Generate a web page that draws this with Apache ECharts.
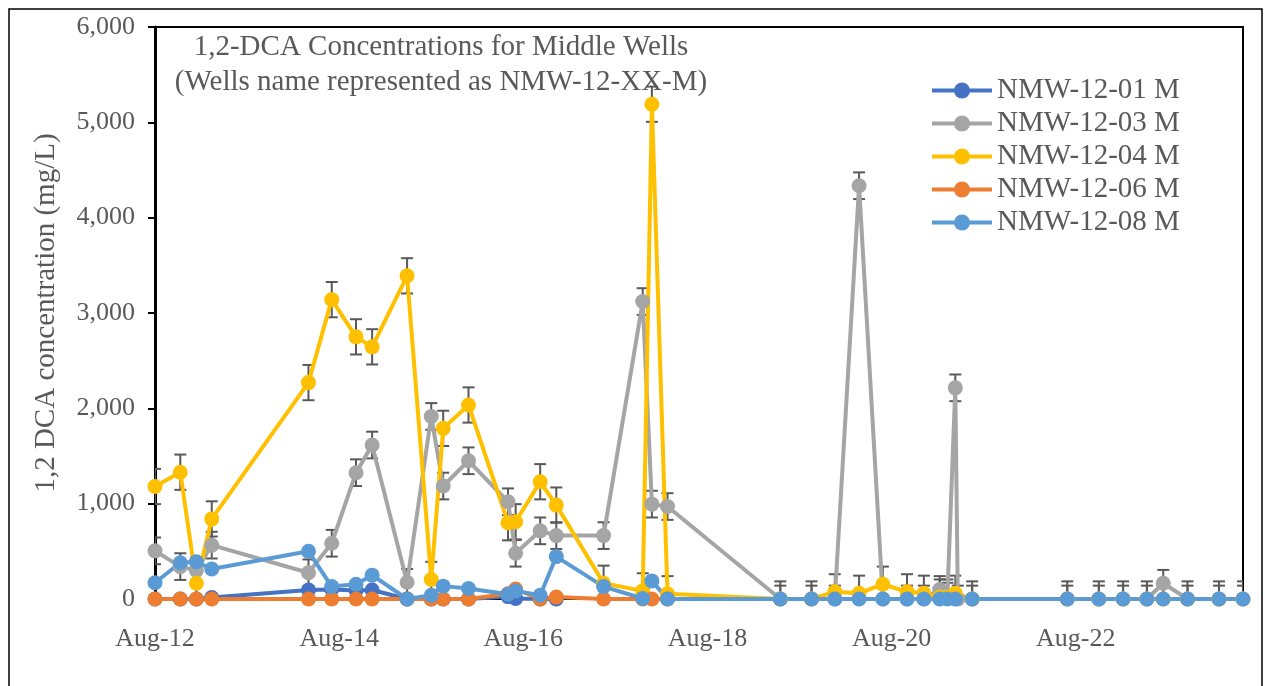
<!DOCTYPE html>
<html>
<head>
<meta charset="utf-8">
<script src="https://cdn.jsdelivr.net/npm/echarts@6/dist/echarts.min.js"></script>
<style>
  html, body { margin: 0; padding: 0; background: #fff; }
  #chart { width: 1265px; height: 686px; }
</style>
</head>
<body>
<div id="chart"></div>
<script>
// Sampling dates shared by all wells
const sampleDates = [
  '2012-08-01', '2012-11-10', '2013-01-13', '2013-03-13', '2014-04-01',
  '2014-07-02', '2014-10-07', '2014-12-10', '2015-04-27', '2015-08-01',
  '2015-09-18', '2015-12-27', '2016-06-01', '2016-07-01', '2016-10-07',
  '2016-12-10', '2017-06-15', '2017-11-18', '2017-12-24', '2018-02-25',
  '2019-05-16', '2019-09-18', '2019-12-19', '2020-03-24', '2020-06-27',
  '2020-10-01', '2020-12-07', '2021-02-09', '2021-03-09', '2021-04-10',
  '2021-04-20', '2021-06-16', '2022-06-28', '2022-11-01', '2023-02-06',
  '2023-05-09', '2023-07-13', '2023-10-18', '2024-02-21', '2024-05-25'
];

// 1,2-DCA concentrations (mg/L); null = not sampled
const nmw01 = [0, 0, 0, 15, 95, 100, 90, 95, 0, 0,
  0, 0, 25, 5, 0, 0, null, null, null, null,
  null, null, null, null, null, null, null, null, null, null,
  null, null, null, null, null, null, null, null, null, null];
const nmw03 = [505, 340, 300, 565, 275, 585, 1325, 1615, 175, 1915,
  1185, 1450, 1020, 480, 715, 665, 665, 3120, 995, 970,
  0, 0, 0, 4335, 0, 0, 0, 100, 30, 2215,
  0, 0, 0, 0, 0, 0, 165, 0, 0, 0];
const nmw04 = [1180, 1330, 165, 840, 2270, 3140, 2750, 2645, 3390, 205,
  1790, 2035, 800, 810, 1230, 985, 165, 85, 5190, 55,
  0, 0, 75, 60, 155, 75, 60, 20, 20, 60,
  null, 0, 0, 0, 0, 0, 0, 0, 0, 0];
const nmw06 = [0, 0, 0, 0, 0, 0, 0, 0, 0, 0,
  0, 0, 55, 105, 0, 20, 0, 0, 0, 0,
  null, null, null, null, null, null, null, null, null, null,
  null, null, null, null, null, null, null, null, null, null];
const nmw08 = [170, 380, 390, 315, 500, 130, 155, 250, 0, 40,
  135, 110, 50, 85, 40, 445, 130, 5, 190, 0,
  0, 0, 0, 0, 0, 0, 0, 0, 0, 0,
  null, 0, 0, 0, 0, 0, 0, 0, 0, 0];

// Standard error (mg/L) shown as error bars
const nmw03Error = 140;
const nmw04Error = 185;

const seriesNames = ['NMW-12-01 M', 'NMW-12-03 M', 'NMW-12-04 M', 'NMW-12-06 M', 'NMW-12-08 M'];
const seriesColors = ['#4472C4', '#A5A5A5', '#FFC000', '#ED7D31', '#5B9BD5'];
const xTickLabels = ['Aug-12', 'Aug-14', 'Aug-16', 'Aug-18', 'Aug-20', 'Aug-22', 'Aug-24'];
const yTicks = { min: 0, max: 6000, step: 1000 };

const SERIF = '"Liberation Serif", "Times New Roman", serif';
const TEXT = '#595959';

// Month offset from August 2012 (the axis origin)
function monthsFromStart(iso) {
  const [y, m, d] = iso.split('-').map(Number);
  return (y - 2012) * 12 + (m - 8) + (d - 1) / 30.44;
}
const xMonths = sampleDates.map(monthsFromStart);

function points(values) {
  const out = [];
  values.forEach((v, i) => { if (v !== null) out.push([xMonths[i], v]); });
  return out;
}

function lineSeries(idx, values) {
  return {
    name: seriesNames[idx],
    type: 'line',
    data: points(values),
    symbol: 'circle',
    symbolSize: 15,
    showAllSymbol: true,
    lineStyle: { color: seriesColors[idx], width: 4 },
    itemStyle: { color: seriesColors[idx] },
    emphasis: { disabled: true },
    animation: false
  };
}

function errorSeries(values, err) {
  return {
    type: 'custom',
    data: points(values),
    clip: true,
    silent: true,
    animation: false,
    encode: { x: 0, y: 1 },
    renderItem(params, api) {
      const x = api.value(0), v = api.value(1);
      const top = api.coord([x, v + err]);
      const bot = api.coord([x, v - err]);
      const half = 6;
      const style = { stroke: '#595959', lineWidth: 2 };
      return {
        type: 'group',
        children: [
          { type: 'line', shape: { x1: top[0], y1: top[1], x2: bot[0], y2: bot[1] }, style },
          { type: 'line', shape: { x1: top[0] - half, y1: top[1], x2: top[0] + half, y2: top[1] }, style },
          { type: 'line', shape: { x1: bot[0] - half, y1: bot[1], x2: bot[0] + half, y2: bot[1] }, style }
        ]
      };
    }
  };
}

const chart = echarts.init(document.getElementById('chart'), null, { renderer: 'canvas' });

chart.setOption({
  backgroundColor: '#ffffff',
  animation: false,
  grid: {
    left: 155, top: 27, right: 22, bottom: 87,
    show: true, borderColor: '#000', borderWidth: 2, backgroundColor: 'transparent'
  },
  xAxis: {
    type: 'value',
    min: 0,
    max: xMonths[xMonths.length - 1],
    interval: 24,
    axisLine: { show: true, lineStyle: { color: '#000', width: 2 } },
    axisTick: { show: false },
    splitLine: { show: false },
    axisLabel: {
      margin: 27,
      color: TEXT,
      fontFamily: SERIF,
      fontSize: 26,
      showMaxLabel: false,
      formatter: v => xTickLabels[Math.round(v / 24)] || ''
    }
  },
  yAxis: {
    type: 'value',
    min: yTicks.min,
    max: yTicks.max,
    interval: yTicks.step,
    axisLine: { show: true, lineStyle: { color: '#000', width: 3 } },
    axisTick: { show: true, inside: false, length: 7, lineStyle: { color: '#000', width: 2 } },
    splitLine: { show: false },
    axisLabel: {
      margin: 20,
      color: TEXT,
      fontFamily: SERIF,
      fontSize: 26,
      formatter: v => v.toLocaleString('en-US')
    }
  },
  legend: {
    orient: 'vertical',
    left: 930,
    top: 76,
    padding: 0,
    itemWidth: 60,
    itemHeight: 20,
    itemGap: 4,
    lineStyle: { width: 4 },
    data: seriesNames,
    textStyle: { color: TEXT, fontFamily: SERIF, fontSize: 29 },
    selectedMode: false
  },
  graphic: [
    {
      type: 'rect', silent: true, z: -1,
      shape: { x: 9, y: 9, width: 1253, height: 720 },
      style: { fill: 'none', stroke: '#000', lineWidth: 1.5 }
    },
    {
      type: 'text', x: 441, y: 47, silent: true,
      style: { text: '1,2-DCA Concentrations for Middle Wells', fill: TEXT, font: '29px ' + SERIF, textAlign: 'center', textVerticalAlign: 'middle' }
    },
    {
      type: 'text', x: 441, y: 82, silent: true,
      style: { text: '(Wells name represented as NMW-12-XX-M)', fill: TEXT, font: '29px ' + SERIF, textAlign: 'center', textVerticalAlign: 'middle' }
    },
    {
      type: 'text', x: 46, y: 313, rotation: Math.PI / 2, silent: true,
      style: { text: '1,2 DCA concentration (mg/L)', fill: TEXT, font: '29px ' + SERIF, textAlign: 'center', textVerticalAlign: 'middle' }
    }
  ],
  series: [
    lineSeries(0, nmw01),
    errorSeries(nmw03, nmw03Error),
    lineSeries(1, nmw03),
    errorSeries(nmw04, nmw04Error),
    lineSeries(2, nmw04),
    lineSeries(3, nmw06),
    lineSeries(4, nmw08)
  ]
});
</script>
</body>
</html>
